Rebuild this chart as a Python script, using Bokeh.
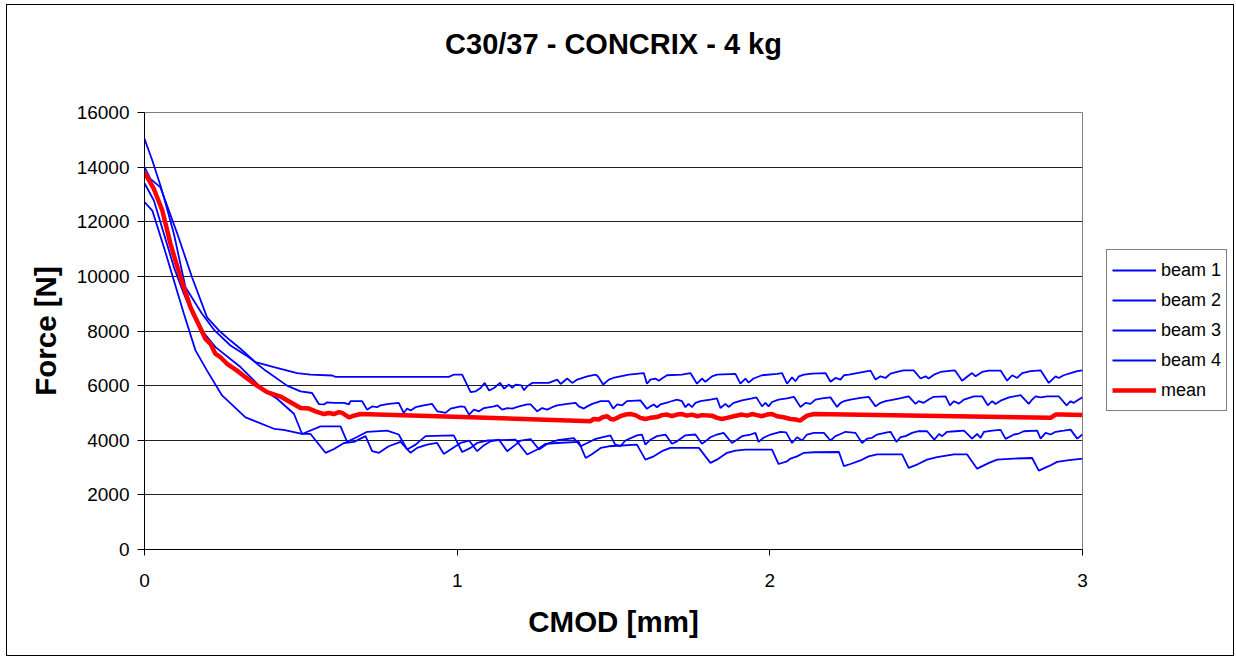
from bokeh.plotting import figure
from bokeh.layouts import row
from bokeh.models import Range1d, FixedTicker, Legend, LegendItem, ColumnDataSource, Title
from bokeh.embed import file_html
from bokeh.resources import INLINE

TITLE = "C30/37 - CONCRIX - 4 kg"
X_LABEL = "CMOD [mm]"
Y_LABEL = "Force [N]"
X_TICKS = [0, 1, 2, 3]
Y_TICKS = [0, 2000, 4000, 6000, 8000, 10000, 12000, 14000, 16000]
SERIES_NAMES = ["beam 1", "beam 2", "beam 3", "beam 4", "mean"]

# (CMOD [mm], Force [N])
beam1 = [(0, 14000), (0.019, 13570), (0.051, 13260), (0.105, 11560), (0.152, 9970), (0.200, 8500),
         (0.238, 8020), (0.275, 7650), (0.307, 7350), (0.355, 6860), (0.414, 6680), (0.488, 6460),
         (0.531, 6400), (0.600, 6370), (0.611, 6320), (0.973, 6320), (0.989, 6400), (1.016, 6400),
         (1.043, 5760), (1.059, 5790), (1.075, 5915), (1.088, 6100), (1.102, 5820), (1.118, 5915),
         (1.137, 6100), (1.150, 5890), (1.166, 6040), (1.176, 5915), (1.187, 6040), (1.205, 6010),
         (1.214, 5830), (1.224, 5980), (1.240, 6100), (1.293, 6100), (1.320, 6220), (1.331, 6060),
         (1.352, 6260), (1.368, 6100), (1.384, 6220), (1.416, 6340), (1.443, 6400), (1.450, 6340),
         (1.467, 6040), (1.485, 6220), (1.499, 6280), (1.522, 6340), (1.549, 6400), (1.597, 6460),
         (1.607, 6070), (1.618, 6220), (1.634, 6260), (1.645, 6180), (1.655, 6260), (1.671, 6380),
         (1.719, 6400), (1.746, 6460), (1.767, 6070), (1.783, 6260), (1.794, 6140), (1.815, 6340),
         (1.831, 6400), (1.890, 6430), (1.906, 6070), (1.922, 6260), (1.932, 6110), (1.948, 6260),
         (1.975, 6380), (2.023, 6430), (2.039, 6460), (2.055, 6070), (2.071, 6300), (2.082, 6160),
         (2.093, 6340), (2.109, 6400), (2.135, 6440), (2.178, 6460), (2.194, 6140), (2.210, 6280),
         (2.226, 6220), (2.237, 6380), (2.253, 6400), (2.279, 6460), (2.322, 6550), (2.338, 6220),
         (2.354, 6340), (2.370, 6280), (2.386, 6440), (2.407, 6500), (2.428, 6560), (2.460, 6560),
         (2.482, 6260), (2.498, 6340), (2.508, 6260), (2.525, 6400), (2.546, 6500), (2.589, 6560),
         (2.594, 6530), (2.615, 6180), (2.637, 6380), (2.647, 6460), (2.658, 6340), (2.679, 6500),
         (2.701, 6550), (2.738, 6550), (2.759, 6180), (2.775, 6380), (2.791, 6280), (2.807, 6460),
         (2.834, 6530), (2.866, 6560), (2.892, 6100), (2.914, 6340), (2.924, 6280), (2.940, 6380),
         (2.962, 6460), (2.983, 6530), (3.000, 6560)]

beam2 = [(0, 15040), (0.025, 14240), (0.051, 13330), (0.062, 12900), (0.094, 11560), (0.131, 9600),
         (0.184, 8630), (0.224, 8020), (0.275, 7470), (0.334, 7040), (0.387, 6550), (0.456, 6000),
         (0.499, 5790), (0.536, 5730), (0.558, 5320), (0.574, 5310), (0.584, 5390), (0.606, 5370),
         (0.638, 5370), (0.654, 5310), (0.659, 5430), (0.696, 5430), (0.712, 5120), (0.728, 5240),
         (0.744, 5210), (0.755, 5280), (0.781, 5330), (0.813, 5370), (0.829, 5000), (0.840, 5160),
         (0.851, 5090), (0.867, 5210), (0.893, 5280), (0.920, 5330), (0.936, 5060), (0.947, 5040),
         (0.963, 5000), (0.979, 5160), (1.011, 5240), (1.024, 5220), (1.038, 4940), (1.054, 5120),
         (1.070, 5060), (1.086, 5180), (1.118, 5240), (1.128, 5280), (1.144, 5120), (1.160, 5180),
         (1.176, 5160), (1.198, 5240), (1.224, 5310), (1.235, 5310), (1.256, 5060), (1.272, 5180),
         (1.288, 5120), (1.304, 5210), (1.320, 5280), (1.352, 5330), (1.379, 5370), (1.389, 5240),
         (1.405, 5160), (1.416, 5240), (1.432, 5330), (1.459, 5430), (1.485, 5430), (1.499, 5160),
         (1.512, 5310), (1.528, 5280), (1.543, 5430), (1.586, 5460), (1.607, 5150), (1.618, 5240),
         (1.629, 5310), (1.639, 5210), (1.650, 5310), (1.677, 5400), (1.703, 5490), (1.719, 5430),
         (1.730, 5210), (1.740, 5330), (1.751, 5210), (1.762, 5370), (1.778, 5430), (1.810, 5490),
         (1.831, 5530), (1.842, 5180), (1.858, 5330), (1.868, 5220), (1.884, 5370), (1.911, 5460),
         (1.943, 5530), (1.957, 5570), (1.975, 5240), (1.986, 5370), (1.996, 5240), (2.007, 5400),
         (2.028, 5490), (2.055, 5530), (2.077, 5590), (2.098, 5220), (2.114, 5370), (2.130, 5330),
         (2.146, 5490), (2.167, 5530), (2.194, 5570), (2.215, 5220), (2.226, 5370), (2.237, 5430),
         (2.258, 5490), (2.290, 5550), (2.316, 5590), (2.338, 5240), (2.354, 5370), (2.370, 5430),
         (2.396, 5490), (2.423, 5550), (2.444, 5610), (2.466, 5330), (2.476, 5430), (2.492, 5370),
         (2.508, 5490), (2.524, 5590), (2.562, 5610), (2.576, 5280), (2.589, 5430), (2.605, 5340),
         (2.621, 5490), (2.653, 5610), (2.679, 5610), (2.697, 5280), (2.711, 5430), (2.722, 5330),
         (2.738, 5450), (2.765, 5570), (2.802, 5650), (2.828, 5330), (2.839, 5490), (2.850, 5610),
         (2.866, 5570), (2.887, 5610), (2.924, 5610), (2.949, 5280), (2.962, 5430), (2.972, 5370),
         (2.988, 5490), (3.000, 5570)]

beam3 = [(0, 13410), (0.030, 12780), (0.062, 11560), (0.094, 10340), (0.126, 9360), (0.158, 8500),
         (0.184, 8020), (0.227, 7410), (0.307, 6680), (0.382, 5820), (0.424, 5520), (0.478, 4970),
         (0.504, 4230), (0.563, 4510), (0.627, 4510), (0.648, 3940), (0.675, 4090), (0.712, 4310),
         (0.776, 4350), (0.813, 4210), (0.840, 3660), (0.867, 3840), (0.899, 4150), (0.989, 4180),
         (1.016, 3570), (1.043, 3720), (1.064, 3900), (1.096, 3990), (1.187, 4020), (1.224, 3480),
         (1.256, 3660), (1.283, 3870), (1.320, 3900), (1.389, 3940), (1.411, 3350), (1.432, 3500),
         (1.459, 3720), (1.485, 3780), (1.575, 3840), (1.602, 3290), (1.629, 3410), (1.655, 3600),
         (1.682, 3720), (1.773, 3720), (1.810, 3170), (1.831, 3290), (1.863, 3540), (1.890, 3620),
         (1.922, 3660), (2.007, 3660), (2.028, 3130), (2.055, 3230), (2.066, 3330), (2.087, 3410),
         (2.109, 3540), (2.141, 3560), (2.221, 3570), (2.237, 3050), (2.258, 3130), (2.290, 3260),
         (2.316, 3410), (2.343, 3480), (2.423, 3480), (2.444, 2990), (2.471, 3110), (2.503, 3290),
         (2.535, 3380), (2.589, 3480), (2.631, 3480), (2.663, 2960), (2.701, 3170), (2.727, 3290),
         (2.781, 3330), (2.839, 3350), (2.860, 2890), (2.892, 3050), (2.919, 3210), (2.951, 3260),
         (3.000, 3330)]

beam4 = [(0, 12720), (0.025, 12410), (0.062, 11070), (0.094, 9850), (0.126, 8630), (0.163, 7290),
         (0.200, 6550), (0.248, 5640), (0.323, 4840), (0.414, 4420), (0.445, 4380), (0.504, 4230),
         (0.531, 4230), (0.579, 3540), (0.606, 3680), (0.638, 3900), (0.670, 3940), (0.707, 4150),
         (0.728, 3600), (0.750, 3540), (0.781, 3780), (0.819, 3940), (0.851, 3540), (0.872, 3720),
         (0.904, 3840), (0.936, 3900), (0.957, 3500), (0.979, 3660), (1.011, 3900), (1.038, 3990),
         (1.064, 3600), (1.086, 3820), (1.107, 3960), (1.134, 4020), (1.160, 3600), (1.187, 3840),
         (1.203, 3990), (1.235, 4040), (1.262, 3660), (1.288, 3870), (1.320, 4000), (1.373, 4080),
         (1.395, 3780), (1.416, 3900), (1.443, 4050), (1.490, 4180), (1.505, 3850), (1.522, 3780),
         (1.538, 3990), (1.575, 4180), (1.591, 4210), (1.602, 3840), (1.618, 4020), (1.639, 4150),
         (1.666, 4210), (1.687, 3870), (1.703, 3960), (1.719, 4090), (1.730, 4180), (1.762, 4210),
         (1.783, 3870), (1.794, 3960), (1.810, 4110), (1.831, 4210), (1.852, 4270), (1.879, 3900),
         (1.895, 4020), (1.911, 4150), (1.938, 4210), (1.954, 4270), (1.964, 3940), (1.980, 4090),
         (2.002, 4210), (2.034, 4310), (2.052, 4290), (2.071, 3900), (2.087, 4110), (2.103, 3990),
         (2.119, 4210), (2.141, 4270), (2.173, 4270), (2.194, 3990), (2.210, 4150), (2.226, 4230),
         (2.242, 4310), (2.274, 4270), (2.295, 3900), (2.311, 4060), (2.327, 4090), (2.343, 4210),
         (2.375, 4290), (2.386, 4310), (2.405, 3940), (2.418, 4110), (2.434, 4150), (2.455, 4270),
         (2.476, 4330), (2.503, 4330), (2.526, 4020), (2.541, 4230), (2.551, 4150), (2.567, 4310),
         (2.594, 4330), (2.621, 4350), (2.647, 4060), (2.663, 4230), (2.674, 4090), (2.685, 4310),
         (2.711, 4350), (2.738, 4380), (2.754, 4050), (2.781, 4210), (2.793, 4230), (2.812, 4330),
         (2.855, 4350), (2.866, 4060), (2.882, 4270), (2.898, 4210), (2.914, 4310), (2.940, 4350),
         (2.962, 4390), (2.983, 4060), (3.000, 4210)]

mean = [(0, 13810), (0.030, 13200), (0.057, 12410), (0.083, 11190), (0.115, 9970), (0.147, 8870),
        (0.179, 8100), (0.195, 7710), (0.211, 7530), (0.227, 7160), (0.243, 7040), (0.264, 6800),
        (0.296, 6550), (0.323, 6310), (0.360, 6000), (0.392, 5760), (0.435, 5600), (0.467, 5390),
        (0.499, 5180), (0.526, 5160), (0.547, 5060), (0.574, 4960), (0.590, 5000), (0.606, 4960),
        (0.622, 5030), (0.632, 5000), (0.654, 4840), (0.670, 4900), (0.691, 4960), (1.043, 4840),
        (1.427, 4700), (1.437, 4780), (1.453, 4760), (1.464, 4840), (1.480, 4880), (1.491, 4780),
        (1.501, 4760), (1.522, 4880), (1.538, 4940), (1.554, 4960), (1.570, 4920), (1.586, 4820),
        (1.602, 4780), (1.618, 4820), (1.639, 4850), (1.655, 4920), (1.671, 4940), (1.687, 4880),
        (1.703, 4940), (1.719, 4960), (1.735, 4900), (1.751, 4940), (1.767, 4880), (1.783, 4920),
        (1.815, 4900), (1.831, 4820), (1.847, 4780), (1.863, 4820), (1.884, 4880), (1.911, 4940),
        (1.927, 4900), (1.943, 4960), (1.959, 4920), (1.975, 4880), (1.991, 4940), (2.007, 4960),
        (2.023, 4880), (2.044, 4840), (2.066, 4780), (2.082, 4760), (2.098, 4720), (2.109, 4820),
        (2.119, 4900), (2.141, 4960), (2.898, 4820), (2.914, 4940), (2.930, 4940), (3.000, 4920)]

FONT = "Liberation Sans"
BLUE = "#0000FF"
RED = "#FF0000"

p = figure(width=1083, height=650, x_range=Range1d(0, 3), y_range=Range1d(0, 16000),
           output_backend="svg", toolbar_location=None,
           min_border_left=137, min_border_right=8, min_border_top=107, min_border_bottom=106)
p.background_fill_color = "white"
p.border_fill_color = "white"
p.outline_line_color = "#808080"
p.outline_line_width = 1

p.title.text = TITLE
p.title.align = "center"
p.title.text_font = FONT
p.title.text_font_size = "29px"
p.title.text_font_style = "bold"
p.title.text_color = "black"
p.title.offset = 6
# blank spacer between the title and the plot area
p.add_layout(Title(text=" ", text_font_size="14px", text_font=FONT, standoff=30), "above")

p.xaxis.ticker = FixedTicker(ticks=X_TICKS)
p.yaxis.ticker = FixedTicker(ticks=Y_TICKS)
for ax in (p.xaxis[0], p.yaxis[0]):
    ax.axis_line_color = "black"
    ax.axis_line_width = 1
    ax.major_tick_line_color = "black"
    ax.major_tick_in = 0
    ax.minor_tick_line_color = None
    ax.major_label_text_font = FONT
    ax.major_label_text_font_size = "19px"
    ax.major_label_text_color = "black"
    ax.axis_label_text_font = FONT
    ax.axis_label_text_font_size = "29.5px"
    ax.axis_label_text_font_style = "bold"
    ax.axis_label_text_color = "black"
p.xaxis.axis_label = X_LABEL
p.yaxis.axis_label = Y_LABEL
p.xaxis.major_tick_out = 6
p.yaxis.major_tick_out = 7
p.xaxis.major_label_standoff = 18
p.yaxis.major_label_standoff = 8
p.xaxis.axis_label_standoff = 15
p.yaxis.axis_label_standoff = 12

p.xgrid.visible = False
p.ygrid.ticker = FixedTicker(ticks=Y_TICKS[1:-1])
p.ygrid.grid_line_color = "#222222"
p.ygrid.grid_line_width = 1

# legend panel to the right of the plot area (same data; its view shows only the legend)
lf = figure(width=143, height=650, x_range=Range1d(0, 1), y_range=Range1d(0, 1),
            output_backend="svg", toolbar_location=None,
            x_axis_location=None, y_axis_location=None, min_border=0)
lf.outline_line_color = None
lf.grid.visible = False
lf.background_fill_color = "white"
lf.border_fill_color = "white"

leg_renderers = []
for data, name in zip([beam1, beam2, beam3, beam4, mean], SERIES_NAMES):
    is_mean = name == "mean"
    color = RED if is_mean else BLUE
    width = 4.5 if is_mean else 1.8
    src = ColumnDataSource(dict(x=[d[0] for d in data], y=[d[1] for d in data]))
    p.line("x", "y", source=src, line_color=color, line_width=width)
    leg_renderers.append(lf.line("x", "y", source=src, line_color=color, line_width=width))

legend = Legend(items=[LegendItem(label=n, renderers=[r]) for n, r in zip(SERIES_NAMES, leg_renderers)],
                location=(16, 138))
legend.border_line_color = "black"
legend.border_line_width = 1
legend.background_fill_color = "white"
legend.background_fill_alpha = 1
legend.label_text_font = FONT
legend.label_text_font_size = "18px"
legend.label_text_color = "black"
legend.padding = 5
legend.spacing = 0
legend.margin = 0
legend.glyph_width = 44
legend.glyph_height = 30
legend.label_height = 30
legend.label_standoff = 5
lf.add_layout(legend)

layout = row(p, lf)
layout.styles = {"border": "1px solid black", "margin-left": "6px", "margin-top": "4px"}

open("out.html", "w").write(file_html(layout, INLINE))
